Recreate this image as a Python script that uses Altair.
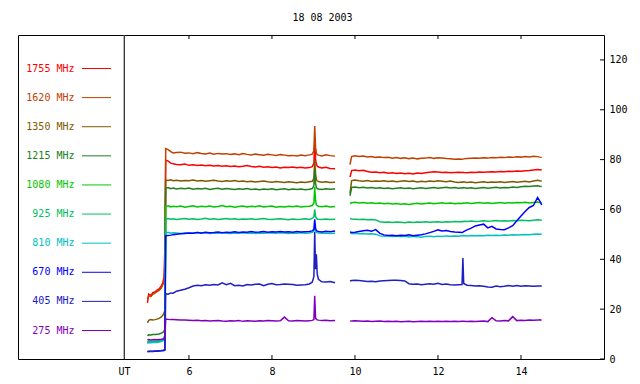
import altair as alt
import pandas as pd

TITLE = "18 08 2003"
FREQS = ["1755 MHz", "1620 MHz", "1350 MHz", "1215 MHz", "1080 MHz",
         "925 MHz", "810 MHz", "670 MHz", "405 MHz", "275 MHz"]
COLORS = ["#ff0000", "#c04000", "#805800", "#208020", "#00c800",
          "#00c060", "#00c0c0", "#0000ff", "#2020c0", "#8000c0"]
WIDTHS = [1.5, 1.5, 1.5, 1.5, 1.5, 1.4, 1.4, 1.4, 1.1, 1.1]

X_TICKS = [6, 8, 10, 12, 14]
Y_TICKS = [0, 20, 40, 60, 80, 100, 120]
X_START = 4.435   # "UT" position (left edge of the data panel)
X_END = 16
Y_MAX = 130

# time (UT hours)
T_PRE = [5.00, 5.03, 5.08, 5.13, 5.18, 5.23, 5.28, 5.33, 5.37, 5.40, 5.42]
T_MAIN = [5.44, 5.50, 5.56, 5.62, 5.70, 5.80, 5.90, 6.00, 6.10, 6.20, 6.30, 6.40,
          6.50, 6.60, 6.70, 6.80, 6.90, 7.00, 7.10, 7.20, 7.30, 7.40, 7.50, 7.60,
          7.70, 7.80, 7.90, 8.00, 8.10, 8.20, 8.30, 8.40, 8.50, 8.60, 8.70, 8.80,
          8.90, 8.97]
T_FLARE = [9.01, 9.03, 9.05, 9.07, 9.09, 9.12, 9.20, 9.30, 9.40, 9.52]
T_SEG2 = [9.88, 9.92, 10.0, 10.1, 10.2, 10.3, 10.4, 10.5, 10.6, 10.7,
          10.8, 10.9, 11.0, 11.1, 11.2, 11.3, 11.4, 11.5, 11.6, 11.7,
          11.8, 11.9, 12.0, 12.1, 12.2, 12.3, 12.4, 12.5, 12.58, 12.6,
          12.62, 12.7, 12.8, 12.9, 13.0, 13.1, 13.2, 13.3, 13.4, 13.5,
          13.6, 13.7, 13.8, 13.9, 14.0, 14.1, 14.2, 14.3, 14.4, 14.45,
          14.5]

F1755 = ([22.5, 26.0, 25.4, 26.6, 26.9, 27.6, 28.1, 29.2, 30.6, 33.0, 44.5]
         + [79.8, 79.4, 78.6, 78.3, 78.0, 77.9, 78.2, 77.7, 77.9, 77.6, 77.8, 77.5, 77.7,
            77.4, 77.6, 77.3, 77.5, 77.2, 77.4, 77.1, 77.3, 77.6, 77.2, 77.0, 77.3, 76.9,
            77.1, 76.8, 77.0, 76.6, 76.9, 76.8, 77.0, 76.7, 76.9, 76.6, 76.8, 77.2]
         + [78.5, 87.0, 80.0, 78.2, 77.4, 77.0, 76.6, 76.9, 76.4, 76.3]
         + [73.0, 75.6, 75.8, 75.5, 75.7, 75.2, 74.9, 75.0, 74.7, 74.9,
            74.5, 74.7, 74.4, 74.6, 74.3, 74.5, 74.2, 74.6, 74.4, 74.7,
            74.9, 75.1, 75.0, 74.8, 74.9, 74.7, 74.8, 74.9, 74.8, 74.9,
            74.8, 74.7, 74.9, 74.8, 75.0, 74.9, 75.0, 75.1, 75.0, 75.2,
            75.1, 75.3, 75.2, 75.4, 75.3, 75.5, 75.6, 75.8, 76.0, 75.9,
            75.8])
F1620 = ([24.0, 25.4, 25.0, 26.0, 26.4, 27.0, 27.5, 28.4, 29.8, 31.0, 38.0]
         + [84.4, 84.0, 83.2, 82.7, 82.9, 83.0, 82.6, 82.7, 82.4, 82.8, 82.5, 82.3, 82.6,
            82.2, 82.5, 82.3, 82.4, 82.1, 82.3, 82.0, 82.4, 82.1, 81.9, 82.2, 82.0, 81.8,
            82.1, 81.9, 81.7, 82.0, 81.8, 81.6, 81.7, 81.5, 81.8, 81.6, 81.9, 82.2]
         + [83.5, 93.5, 85.0, 82.6, 82.0, 81.8, 81.5, 81.9, 81.6, 81.4]
         + [78.0, 81.2, 81.5, 81.3, 81.4, 81.1, 81.2, 80.9, 81.0, 80.8,
            80.9, 80.6, 80.8, 80.5, 80.7, 80.4, 80.6, 80.3, 80.5, 80.6,
            80.8, 80.5, 80.7, 80.6, 80.4, 80.3, 80.1, 80.2, 80.1, 80.2,
            80.3, 80.4, 80.5, 80.6, 80.5, 80.7, 80.6, 80.8, 80.7, 80.9,
            80.8, 81.0, 80.9, 81.1, 81.0, 81.2, 81.1, 81.3, 81.2, 81.0,
            80.9])
F1350 = ([14.5, 15.5, 15.8, 15.7, 15.8, 16.0, 16.3, 16.8, 17.5, 18.5, 19.5]
         + [71.8, 71.6, 71.9, 71.5, 71.7, 71.4, 71.6, 71.5, 71.8, 71.4, 71.6, 71.3, 71.5,
            71.7, 71.4, 71.2, 71.5, 71.3, 71.6, 71.2, 71.4, 71.1, 71.3, 71.0, 71.2, 71.4,
            71.1, 70.9, 71.2, 71.0, 70.8, 71.1, 70.9, 70.7, 71.0, 70.8, 71.1, 71.3]
         + [72.5, 80.0, 74.5, 72.0, 71.5, 71.2, 70.9, 71.1, 70.8, 70.9]
         + [66.5, 71.6, 71.8, 71.5, 71.3, 71.6, 71.2, 71.4, 71.3, 71.5,
            71.2, 71.4, 71.1, 71.3, 71.5, 71.2, 71.4, 71.0, 71.3, 71.1,
            71.4, 71.2, 71.5, 71.3, 71.1, 71.4, 71.0, 70.8, 71.0, 70.9,
            71.1, 70.8, 71.0, 70.7, 70.9, 71.1, 70.8, 71.0, 70.9, 71.1,
            70.8, 71.0, 71.2, 70.9, 71.1, 71.3, 71.0, 71.4, 71.7, 71.5,
            71.4])
F1215 = ([9.3, 9.7, 9.6, 9.8, 9.8, 9.9, 10.0, 10.3, 10.7, 11.2, 12.0]
         + [68.5, 68.8, 68.3, 68.6, 68.2, 68.5, 68.3, 68.6, 68.1, 68.4, 68.2, 68.5, 68.0,
            68.3, 68.5, 68.1, 68.4, 68.2, 68.0, 68.3, 68.1, 68.4, 68.0, 68.2, 67.9, 68.2,
            68.0, 68.3, 67.9, 68.1, 68.3, 67.9, 68.2, 68.0, 68.2, 67.9, 68.1, 68.4]
         + [69.5, 76.0, 70.5, 68.8, 68.4, 68.2, 68.0, 68.3, 68.1, 68.2]
         + [65.5, 68.8, 69.0, 68.7, 68.9, 68.6, 68.8, 68.5, 68.7, 68.4,
            68.6, 68.3, 68.5, 68.7, 68.4, 68.6, 68.3, 68.5, 68.7, 68.4,
            68.6, 68.8, 68.5, 68.7, 68.9, 68.6, 68.8, 68.5, 68.7, 68.6,
            68.8, 68.5, 68.7, 68.4, 68.6, 68.8, 68.5, 68.7, 68.9, 68.6,
            68.8, 68.7, 69.0, 68.8, 69.1, 69.3, 69.2, 69.4, 69.5, 69.3,
            69.2])
F1080 = ([6.5, 6.8, 6.7, 6.9, 6.8, 7.0, 7.1, 7.3, 7.6, 8.2, 9.5]
         + [61.2, 61.5, 61.0, 61.3, 61.1, 61.4, 60.9, 61.2, 61.5, 61.0, 61.3, 61.1, 61.4,
            61.0, 61.2, 61.6, 61.1, 61.3, 60.9, 61.2, 61.4, 61.0, 61.3, 61.1, 61.5, 61.0,
            61.2, 61.4, 60.9, 61.2, 61.0, 61.3, 61.1, 61.4, 61.0, 61.2, 61.3, 61.6]
         + [62.5, 69.0, 63.5, 61.8, 61.5, 61.3, 61.1, 61.4, 61.0, 61.2]
         + [62.4, 62.7, 62.9, 62.6, 62.8, 62.5, 62.7, 62.4, 62.6, 62.3,
            62.5, 62.2, 62.4, 62.1, 62.3, 62.0, 62.3, 62.5, 62.2, 62.4,
            62.6, 62.3, 62.5, 62.7, 62.4, 62.6, 62.3, 62.5, 62.4, 62.6,
            62.5, 62.7, 62.4, 62.6, 62.8, 62.5, 62.7, 62.4, 62.6, 62.8,
            62.5, 62.7, 62.6, 62.8, 62.7, 62.9, 62.6, 62.8, 63.0, 62.8,
            62.7])
F925 = ([6.8, 7.2, 7.0, 7.1, 7.2, 7.1, 7.3, 7.5, 7.9, 8.5, 10.0]
        + [56.2, 56.4, 56.1, 56.3, 56.0, 56.2, 56.4, 56.1, 56.3, 56.0, 56.2, 56.5, 56.1,
           56.3, 56.0, 56.2, 56.4, 56.1, 56.3, 56.0, 56.2, 56.1, 56.3, 56.0, 56.2, 56.4,
           56.1, 56.0, 56.2, 56.3, 56.1, 55.9, 56.2, 56.0, 56.1, 56.3, 56.0, 56.4]
        + [57.0, 60.0, 57.2, 56.5, 56.2, 56.1, 56.0, 56.2, 56.0, 56.1]
        + [56.4, 56.2, 56.1, 56.0, 56.1, 55.9, 56.0, 55.8, 55.1, 54.9,
           55.0, 54.8, 55.0, 54.9, 54.7, 55.0, 54.8, 55.0, 54.9, 55.1,
           54.9, 55.0, 55.1, 54.9, 55.1, 55.0, 55.2, 55.1, 55.2, 55.1,
           55.3, 55.2, 55.4, 55.2, 55.3, 55.5, 55.3, 55.4, 55.6, 55.4,
           55.5, 55.4, 55.6, 55.5, 55.7, 55.6, 55.5, 55.7, 55.9, 55.8,
           55.7])
F810 = ([6.3, 6.6, 6.5, 6.6, 6.7, 6.6, 6.8, 7.0, 7.3, 7.8, 9.0]
        + [50.6, 50.8, 50.5, 50.7, 50.6, 50.4, 50.7, 50.5, 50.6, 50.8, 50.5, 50.7, 50.4,
           50.6, 50.5, 50.7, 50.6, 50.4, 50.6, 50.5, 50.7, 50.5, 50.6, 50.4, 50.6, 50.5,
           50.7, 50.6, 50.5, 50.7, 50.6, 50.4, 50.6, 50.5, 50.7, 50.5, 50.6, 50.8]
        + [51.2, 53.5, 51.5, 50.9, 50.7, 50.6, 50.5, 50.6, 50.4, 50.5]
        + [50.6, 50.4, 50.5, 50.3, 50.4, 50.2, 50.3, 50.1, 49.4, 49.3,
           49.4, 49.2, 49.3, 49.1, 49.3, 49.0, 49.2, 49.1, 48.9, 49.2,
           49.3, 49.1, 49.3, 49.2, 49.4, 49.3, 49.4, 49.3, 49.5, 49.4,
           49.5, 49.4, 49.6, 49.5, 49.6, 49.5, 49.7, 49.6, 49.7, 49.6,
           49.8, 49.7, 49.9, 49.8, 49.9, 50.0, 49.9, 50.1, 50.2, 50.1,
           50.2])
F670 = ([2.9, 3.0, 3.0, 3.0, 3.1, 3.1, 3.2, 3.3, 3.3, 3.4, 3.5]
        + [49.5, 49.6, 49.7, 49.9, 50.1, 50.3, 50.4, 50.6, 50.5, 50.8, 50.6, 50.9, 50.7,
           50.8, 51.0, 50.7, 50.9, 50.8, 51.1, 50.8, 51.0, 50.9, 51.2, 50.9, 51.0, 51.2,
           50.9, 51.1, 51.0, 51.2, 51.0, 51.1, 50.9, 51.2, 51.0, 51.1, 51.2, 51.4]
        + [52.0, 56.0, 52.5, 51.6, 51.3, 51.2, 51.0, 51.3, 51.1, 51.4]
        + [51.0, 50.8, 50.9, 51.2, 51.5, 51.7, 51.3, 51.9, 50.4, 49.8,
           49.6, 49.7, 49.5, 49.7, 49.6, 49.8, 49.5, 49.7, 49.9, 50.2,
           50.7, 51.2, 51.8, 51.4, 51.6, 51.2, 51.0, 50.9, 50.8, 50.9,
           51.1, 51.8, 52.5, 53.4, 53.8, 54.1, 52.6, 53.2, 52.2, 52.0,
           51.9, 52.6, 53.5, 55.5, 57.4, 59.2, 60.8, 61.6, 64.8, 63.4,
           61.8])
F405 = ([3.0, 3.1, 3.1, 3.1, 3.2, 3.2, 3.3, 3.4, 3.5, 3.6, 3.8]
        + [26.2, 26.0, 26.5, 26.4, 27.2, 27.6, 28.0, 28.6, 29.3, 29.6, 29.4, 29.8, 29.6,
           29.9, 29.7, 30.6, 29.8, 30.4, 29.4, 29.6, 29.3, 29.9, 29.7, 30.0, 30.1, 29.4,
           30.0, 30.3, 29.8, 29.9, 30.1, 30.0, 29.9, 29.6, 29.7, 29.8, 30.1, 30.8]
        + [33.0, 51.0, 36.0, 42.0, 34.0, 32.0, 31.0, 30.9, 31.1, 30.6]
        + [31.3, 31.5, 31.6, 31.5, 31.3, 31.1, 31.2, 31.0, 31.3, 31.4,
           31.5, 31.6, 31.6, 31.5, 31.3, 30.2, 30.0, 30.1, 29.8, 30.0,
           30.2, 30.0, 30.4, 29.9, 30.1, 29.8, 29.7, 29.8, 29.9, 40.5,
           30.3, 29.6, 29.5, 29.3, 29.4, 29.2, 28.9, 28.8, 29.3, 29.0,
           29.2, 29.5, 29.2, 29.5, 29.2, 29.4, 29.3, 29.2, 29.3, 29.3,
           29.3])
F275 = ([7.6, 7.8, 7.6, 7.7, 7.8, 7.7, 7.8, 7.9, 8.0, 8.2, 8.5]
        + [16.0, 15.9, 15.8, 15.8, 15.7, 15.6, 15.6, 15.5, 15.4, 15.5, 15.3, 15.4, 15.2,
           15.3, 15.4, 15.2, 15.1, 15.3, 15.2, 15.4, 15.1, 15.3, 15.2, 15.1, 15.3, 15.2,
           15.4, 15.3, 15.2, 15.3, 16.8, 15.3, 15.2, 15.4, 15.3, 15.2, 15.3, 15.5]
        + [15.8, 25.4, 16.4, 16.0, 15.7, 15.6, 15.4, 15.5, 15.3, 15.4]
        + [15.3, 15.2, 15.3, 15.2, 15.1, 15.2, 15.0, 15.1, 15.2, 15.0,
           15.1, 15.0, 15.1, 14.9, 15.0, 15.1, 14.9, 15.0, 15.1, 15.0,
           15.1, 15.0, 15.1, 15.0, 15.1, 15.0, 15.1, 15.0, 15.1, 15.1,
           15.1, 15.0, 15.1, 15.0, 15.1, 15.2, 15.0, 16.6, 15.3, 15.2,
           15.4, 15.3, 17.0, 15.4, 15.5, 15.4, 15.6, 15.5, 15.6, 15.7,
           15.6])

SERIES = [F1755, F1620, F1350, F1215, F1080, F925, F810, F670, F405, F275]

T = T_PRE + T_MAIN + T_FLARE + T_SEG2
SEG = [1] * len(T_PRE + T_MAIN + T_FLARE) + [2] * len(T_SEG2)

rows = []
for f, vals in zip(FREQS, SERIES):
    for t, v, s in zip(T, vals, SEG):
        rows.append({"freq": f, "t": t, "v": v, "seg": s})
df = pd.DataFrame(rows)

FONT = "DejaVu Sans Mono"
W_LEG, W_PLOT, H = 106, 480, 324

color_scale = alt.Scale(domain=FREQS, range=COLORS)
xs = alt.Scale(domain=[X_START, X_END], nice=False, zero=False)
ys = alt.Scale(domain=[0, Y_MAX], nice=False)

lines = alt.Chart(df).mark_line().encode(
    x=alt.X("t:Q", scale=xs, title=None,
            axis=alt.Axis(values=[X_START] + X_TICKS, ticks=False, domain=False, grid=False,
                          labelExpr="datum.value < 5 ? 'UT' : datum.label",
                          labelFont=FONT, labelFontSize=10, labelColor="black",
                          labelPadding=7, labelFlush=False, labelOverlap=False)),
    y=alt.Y("v:Q", scale=ys, title=None,
            axis=alt.Axis(orient="right", values=Y_TICKS, ticks=False, domain=False, grid=False,
                          labelFont=FONT, labelFontSize=10, labelColor="black",
                          labelPadding=5, labelFlush=False, labelOverlap=False)),
    color=alt.Color("freq:N", scale=color_scale, legend=None),
    strokeWidth=alt.StrokeWidth("freq:N", scale=alt.Scale(domain=FREQS, range=WIDTHS), legend=None),
    detail="seg:N",
    order=alt.Order("t:Q"),
)

xt = pd.DataFrame({"t": X_TICKS})
yt = pd.DataFrame({"v": Y_TICKS})
top_ticks = alt.Chart(xt).mark_rule(color="black").encode(
    x=alt.X("t:Q", scale=xs), y=alt.value(0), y2=alt.value(4))
bot_ticks = alt.Chart(xt).mark_rule(color="black").encode(
    x=alt.X("t:Q", scale=xs), y=alt.value(H - 4), y2=alt.value(H))
right_ticks = alt.Chart(yt).mark_rule(color="black").encode(
    y=alt.Y("v:Q", scale=ys), x=alt.value(W_PLOT - 4), x2=alt.value(W_PLOT))
divider = alt.Chart(pd.DataFrame({"a": [0]})).mark_rule(color="#707070").encode(
    x=alt.value(0), y=alt.value(0), y2=alt.value(H))

plot = alt.layer(lines, top_ticks, bot_ticks, right_ticks, divider).properties(
    width=W_PLOT, height=H)

leg_df = pd.DataFrame({"freq": FREQS})
leg_y = alt.Y("freq:N", scale=alt.Scale(type="point", domain=FREQS, range=[33.5, 295.5], padding=0),
              axis=None)
leg_text = alt.Chart(leg_df).mark_text(align="right", baseline="middle", font=FONT, fontSize=10).encode(
    y=leg_y, x=alt.value(56.5), text="freq:N",
    color=alt.Color("freq:N", scale=color_scale, legend=None))
leg_line = alt.Chart(leg_df).mark_rule(strokeWidth=1).encode(
    y=leg_y, x=alt.value(64), x2=alt.value(93),
    color=alt.Color("freq:N", scale=color_scale, legend=None))
legend_panel = alt.layer(leg_text, leg_line).properties(width=W_LEG, height=H)

chart = alt.hconcat(legend_panel, plot, spacing=0, bounds="flush").properties(
    title=alt.Title(TITLE, font=FONT, fontSize=10, fontWeight="normal", color="black",
                    anchor="middle", offset=11),
    padding={"left": 9, "top": 5, "right": 0, "bottom": 0},
    background="white",
).configure_view(stroke="black", strokeWidth=1)

chart.save("out.html", embed_options={"renderer": "svg", "actions": False})
